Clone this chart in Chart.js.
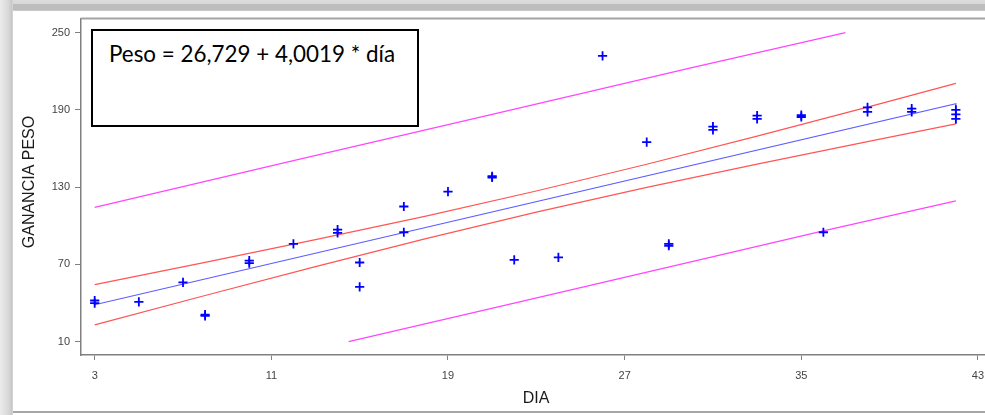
<!DOCTYPE html>
<html>
<head>
<meta charset="utf-8">
<script src="https://cdn.jsdelivr.net/npm/chart.js@4/dist/chart.umd.min.js"></script>
<style>
html,body{margin:0;padding:0;background:#fff;width:985px;height:415px;overflow:hidden;}
#frameTop{position:absolute;left:0;top:0;width:985px;height:11px;background:linear-gradient(#dcdcdc 0px,#d8d8d8 4px,#bdbdbd 4px,#bdbdbd 10px,#d6d6d6 11px);}
#frameLeft{position:absolute;left:0;top:0;width:13px;height:415px;background:linear-gradient(to right,#ececec 0px,#d6d6d6 9px,#c6c6c6 12px,#dedede 13px);}
#frameBottom{position:absolute;left:13px;top:411px;width:972px;height:2px;background:#a6a6a6;}
#wrap{position:absolute;left:0;top:0;width:985px;height:415px;}
#eq{position:absolute;left:91px;top:29px;width:324px;height:94px;border:2px solid #000;background:#fff;font-family:Lato,"Open Sans",sans-serif;font-size:22.4px;line-height:21px;color:#000;}
#eq span{position:absolute;left:16px;top:11.5px;white-space:nowrap;}
</style>
</head>
<body>
<div id="frameTop"></div>
<div id="frameLeft"></div>
<div id="frameBottom"></div>
<div id="wrap"><canvas id="c" width="985" height="415"></canvas></div>
<div id="eq"><span>Peso = 26,729 + 4,0019 * día</span></div>
<script>
// ---- data ----
const days    = [3, 3, 5, 7, 8, 8, 10, 10, 12, 14, 14, 15, 15, 17, 17, 19, 21, 21, 22, 24, 26, 28, 29, 29, 31, 31, 33, 33, 35, 35, 36, 38, 38, 40, 40, 42, 42, 42];
const weights = [42, 40, 41, 56, 31, 30, 73, 71, 86, 97, 94.5, 71.5, 52.5, 115, 95, 126.5, 138.5, 137.5, 73.5, 75.5, 232, 165, 86, 84.5, 177, 174.5, 185.5, 183, 186, 184.5, 95, 192, 188.5, 191, 188.5, 190, 186.5, 183];

const fitDays   = [3, 42, 42];
const fitValues = [38.7, 194.8, 179.2];

const ciDays  = [3, 8, 13, 18, 23, 28, 33, 38, 42];
const ciUpper = [54.3, 71.6, 89.2, 107.5, 127.0, 147.8, 169.7, 192.2, 210.6];
const ciLower = [23.1, 45.9, 68.3, 90.0, 110.6, 129.8, 147.9, 165.4, 179.2];

const piUpperDays = [3, 12, 21, 30, 37];
const piUpper     = [114.4, 150.6, 186.6, 222.6, 250];
const piLowerDays = [14.5, 22, 30, 36, 42];
const piLower     = [10, 40, 72, 96, 119.3];

const xTicks = [3, 11, 19, 27, 35, 43];
const yTicks = [10, 70, 130, 190, 250];

const xTitle = 'DIA';
const yTitle = 'GANANCIA PESO';

// ---- build ----
const pts = (xs, ys) => xs.map((x, i) => ({x: x, y: ys[i]}));

const lineDs = (label, xs, ys, color, w) => ({
  type: 'line', label, data: pts(xs, ys), borderColor: color, borderWidth: w,
  pointRadius: 0, tension: 0, fill: false, showLine: true, order: 2
});

const frameAndTitles = {
  id: 'frameAndTitles',
  beforeDatasetsDraw(chart) {
    const {ctx, chartArea} = chart;
    ctx.save();
    ctx.strokeStyle = '#a4a4a4';
    ctx.lineWidth = 2;
    ctx.beginPath();
    ctx.moveTo(chartArea.left, chartArea.top - 0.5);
    ctx.lineTo(chart.width, chartArea.top - 0.5);
    ctx.stroke();
    ctx.restore();
  },
  afterDraw(chart) {
    const {ctx} = chart;
    ctx.save();
    ctx.fillStyle = '#1a1a1a';
    ctx.textAlign = 'center';
    ctx.textBaseline = 'middle';
    ctx.font = '16px "Liberation Sans", Arial, sans-serif';
    ctx.fillText(xTitle, 536, 399);
    ctx.translate(30, 182);
    ctx.rotate(-Math.PI / 2);
    ctx.fillText(yTitle, 0, 0);
    ctx.restore();
  }
};

const tickFont = {family: '"Liberation Sans", Arial, sans-serif', size: 11};

new Chart(document.getElementById('c'), {
  type: 'scatter',
  data: {
    datasets: [
      {
        label: 'Peso', data: pts(days, weights),
        pointStyle: 'cross', pointRadius: 4.6, pointBorderWidth: 1.8,
        borderColor: '#0000ff', backgroundColor: '#0000ff', order: 1
      },
      lineDs('Ajuste', fitDays, fitValues, 'rgb(95,95,255)', 1.2),
      lineDs('IC sup', ciDays, ciUpper, 'rgb(255,85,85)', 1.2),
      lineDs('IC inf', ciDays, ciLower, 'rgb(255,85,85)', 1.2),
      lineDs('IP sup', piUpperDays, piUpper, 'rgb(255,70,255)', 1.3),
      lineDs('IP inf', piLowerDays, piLower, 'rgb(255,70,255)', 1.3)
    ]
  },
  options: {
    responsive: false,
    animation: false,
    devicePixelRatio: 1,
    layout: {autoPadding: false, padding: {top: 19, left: 0, right: 0, bottom: 0}},
    plugins: {legend: {display: false}, tooltip: {enabled: false}},
    scales: {
      x: {
        type: 'linear', min: 2.38, max: 43.32,
        afterBuildTicks: s => { s.ticks = xTicks.map(v => ({value: v})); },
        afterFit: s => { s.height = 60; s.paddingLeft = 0; s.paddingRight = 0; },
        ticks: {color: '#444', font: tickFont, padding: 9, maxRotation: 0, autoSkip: false, callback: v => String(v)},
        grid: {drawOnChartArea: false, drawTicks: true, tickLength: 5, color: '#808080'},
        border: {display: true, color: '#808080', width: 1.5}
      },
      y: {
        type: 'linear', min: -0.33, max: 260.6,
        afterBuildTicks: s => { s.ticks = yTicks.map(v => ({value: v})); },
        afterFit: s => { s.width = 81; s.paddingTop = 0; s.paddingBottom = 0; },
        ticks: {color: '#444', font: tickFont, padding: 5, autoSkip: false, callback: v => String(v)},
        grid: {drawOnChartArea: false, drawTicks: true, tickLength: 6, color: '#808080'},
        border: {display: true, color: '#808080', width: 1.5}
      }
    }
  },
  plugins: [frameAndTitles]
});
</script>
</body>
</html>
